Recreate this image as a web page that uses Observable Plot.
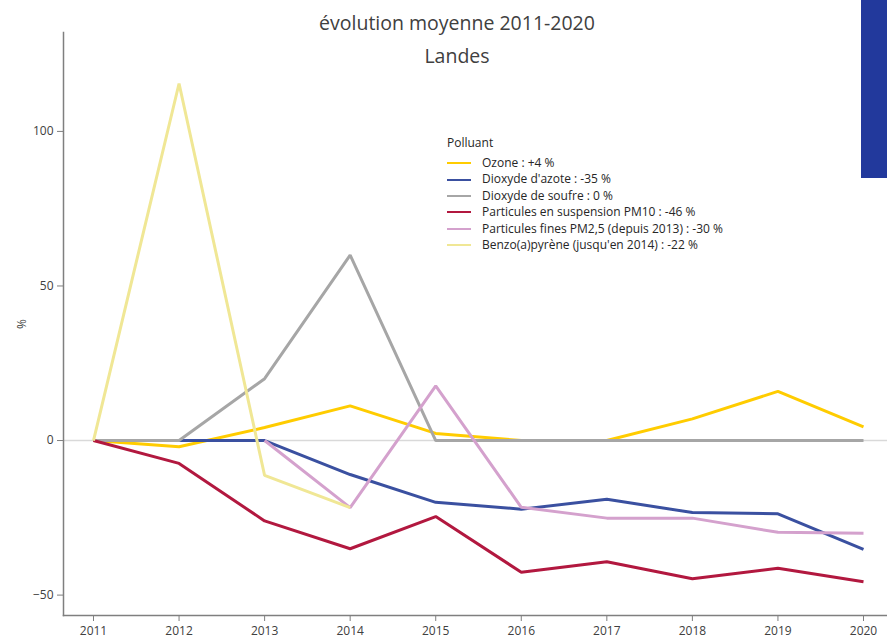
<!DOCTYPE html>
<html><head><meta charset="utf-8">
<script src="https://cdn.jsdelivr.net/npm/d3@7"></script>
<script src="https://cdn.jsdelivr.net/npm/@observablehq/plot@0.6"></script>
<style>
body{margin:0;background:#fff;font-family:"Open Sans",sans-serif;}
#wrap{position:relative;width:887px;height:640px;overflow:hidden;}
#title{position:absolute;left:0;width:914px;top:6px;text-align:center;font-size:19.5px;color:#404040;line-height:33px;}
#band{position:absolute;left:861px;top:0;width:26px;height:178px;background:#22399c;}
#legend{position:absolute;left:447px;top:134px;font-size:12px;color:#262626;}
#legend .h{height:17px;line-height:17px;margin-bottom:4px;}
#legend .it{height:16.4px;line-height:16.4px;display:flex;align-items:center;}
#legend .sw{width:24px;height:2px;margin-right:11px;}
</style></head>
<body><div id="wrap"><div id="title">évolution moyenne 2011-2020<br>Landes</div><div id="band"></div><div id="legend"></div></div>
<script>
const years = [2011,2012,2013,2014,2015,2016,2017,2018,2019,2020];
const seriesNames = [
  "Ozone : +4 %",
  "Dioxyde d'azote : -35 %",
  "Dioxyde de soufre : 0 %",
  "Particules en suspension PM10 : -46 %",
  "Particules fines PM2,5 (depuis 2013) : -30 %",
  "Benzo(a)pyrène (jusqu'en 2014) : -22 %"
];
const seriesColors = ["#ffcc00","#3a50a0","#a6a6a6","#b2183f","#d4a1cd","#f0e795"];
const ozone = [0,-2,4.2,11.2,2.3,0,0,7,15.9,4.4];
const no2   = [0,0,0,-11,-20,-22.2,-19,-23.3,-23.7,-35.2];
const so2   = [0,0,20,60,0,0,0,0,0,0];
const pm10  = [0,-7.4,-26,-35,-24.6,-42.6,-39.2,-44.7,-41.3,-45.7];
const pm25  = [null,null,0,-21.7,17.7,-21.6,-25.1,-25.1,-29.7,-30];
const bap   = [0,115.5,-11.3,-21.7,null,null,null,null,null,null];
const yTicks = [-50,0,50,100];

const allSeries = [ozone,no2,so2,pm10,pm25,bap];
const data = [];
allSeries.forEach((vals,si)=>vals.forEach((v,i)=>{ if(v!==null) data.push({serie:seriesNames[si], year:years[i], value:v}); }));

const axisColor = "#7f7f7f";
const chart = Plot.plot({
  width: 887, height: 640,
  marginTop: 32, marginBottom: 25, marginLeft: 63, marginRight: 0,
  style: {fontFamily: "'Open Sans', sans-serif", fontSize: "12px", color: "#404040", background: "transparent"},
  x: {domain: [2011, 2020], range: [93, 863]},
  y: {domain: [-56.6, 132]},
  color: {domain: seriesNames, range: seriesColors},
  marks: [
    Plot.ruleY([0], {stroke: "#d9d9d9", strokeWidth: 1.5}),
    Plot.frame({anchor: "left", stroke: axisColor, strokeWidth: 1.5}),
    Plot.frame({anchor: "bottom", stroke: axisColor, strokeWidth: 1.5}),
    Plot.axisY({ticks: yTicks, tickSize: 6, tickPadding: 4, stroke: axisColor, label: "%", labelAnchor: "center", labelArrow: "none", labelOffset: 46, fontSize: 12}),
    Plot.axisX({ticks: years, tickFormat: d => String(d), tickSize: 6, tickPadding: 5, stroke: axisColor, label: null, fontSize: 12}),
    Plot.line(data, {x: "year", y: "value", z: "serie", stroke: "serie", strokeWidth: 3, strokeLinejoin: "miter", strokeLinecap: "butt"})
  ]
});
document.getElementById("wrap").prepend(chart);
chart.style.position = "absolute"; chart.style.left = "0"; chart.style.top = "0";

const leg = document.getElementById("legend");
leg.innerHTML = '<div class="h">Polluant</div>' + seriesNames.map((n,i)=>
  `<div class="it"><span class="sw" style="background:${seriesColors[i]}"></span><span>${n}</span></div>`).join("");
</script>
</body></html>
